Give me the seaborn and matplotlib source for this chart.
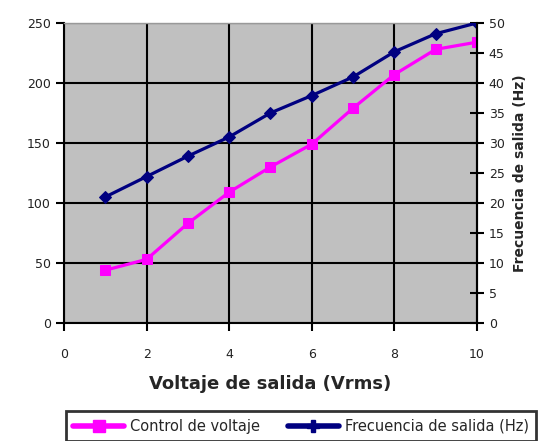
import matplotlib
matplotlib.use('Agg')
import matplotlib.pyplot as plt
import pandas as pd
import seaborn as sns
from matplotlib.lines import Line2D

# Data
voltaje = [1, 2, 3, 4, 5, 6, 7, 8, 9, 10]
control_voltaje = [44, 53, 83, 109, 130, 149, 179, 207, 228, 234]
frecuencia_hz = [21, 24.4, 27.8, 31, 35, 37.9, 41, 45.2, 48.2, 50]

PINK = '#FF00FF'
NAVY = '#000080'


def main():
    df = pd.DataFrame({'Voltaje': voltaje, 'Control': control_voltaje, 'Frecuencia': frecuencia_hz})

    sns.set_style('white')
    plt.rcParams['font.family'] = ['DejaVu Sans']

    fig = plt.figure(figsize=(5.44, 4.41), dpi=100)
    ax = fig.add_axes([0.1176, 0.2676, 0.7592, 0.6804])
    ax.set_facecolor('#C0C0C0')

    sns.lineplot(data=df, x='Voltaje', y='Control', ax=ax, color=PINK, linewidth=2.3,
                 marker='s', markersize=7, markeredgecolor=PINK, legend=False)
    ax.set_xlim(0, 10)
    ax.set_ylim(0, 250)
    ax.set_xticks(range(0, 11, 2))
    ax.set_yticks(range(0, 251, 50))
    ax.grid(True, color='black', linewidth=1.5)
    ax.set_axisbelow(True)
    ax.set_xlabel('Voltaje de salida (Vrms)', fontsize=13, fontweight='bold', labelpad=10)
    ax.set_ylabel('')
    ax.tick_params(axis='both', direction='out', length=6, width=1.5, color='black',
                   labelsize=9, labelcolor='#222222', left=True, bottom=True)
    ax.tick_params(axis='x', pad=12)
    for side in ['left', 'bottom']:
        ax.spines[side].set_color('black')
        ax.spines[side].set_linewidth(1.5)
    ax.spines['top'].set_color('#999999')
    ax.spines['top'].set_linewidth(1)

    ax2 = ax.twinx()
    sns.lineplot(data=df, x='Voltaje', y='Frecuencia', ax=ax2, color=NAVY, linewidth=2.3,
                 marker='D', markersize=6, markeredgecolor=NAVY, legend=False)
    ax2.set_ylim(0, 50)
    ax2.set_yticks(range(0, 51, 5))
    ax2.set_ylabel('Frecuencia de salida (Hz)', fontsize=10, fontweight='bold', labelpad=6)
    ax2.tick_params(axis='y', direction='inout', length=10, width=1.5, color='black',
                    labelsize=9, labelcolor='#222222', right=True)
    ax2.spines['right'].set_color('black')
    ax2.spines['right'].set_linewidth(1.5)
    ax2.spines['top'].set_visible(False)
    ax2.spines['left'].set_visible(False)
    ax2.spines['bottom'].set_visible(False)

    handles = [
        Line2D([], [], color=PINK, linewidth=4, marker='s', markersize=9),
        Line2D([], [], color=NAVY, linewidth=4, marker='P', markersize=8),
    ]
    leg = fig.legend(handles, ['Control de voltaje', 'Frecuencia de salida (Hz)'],
                     loc='lower left', bbox_to_anchor=(66 / 544, 0.0),
                     ncol=2, fontsize=10.5,
                     frameon=True, fancybox=False, edgecolor='black', handlelength=3.5,
                     columnspacing=1.9, handletextpad=0.4, borderpad=0.5,
                     borderaxespad=0.0)
    leg.get_frame().set_linewidth(2)

    fig.savefig('out.png', dpi=100)


if __name__ == '__main__':
    main()
